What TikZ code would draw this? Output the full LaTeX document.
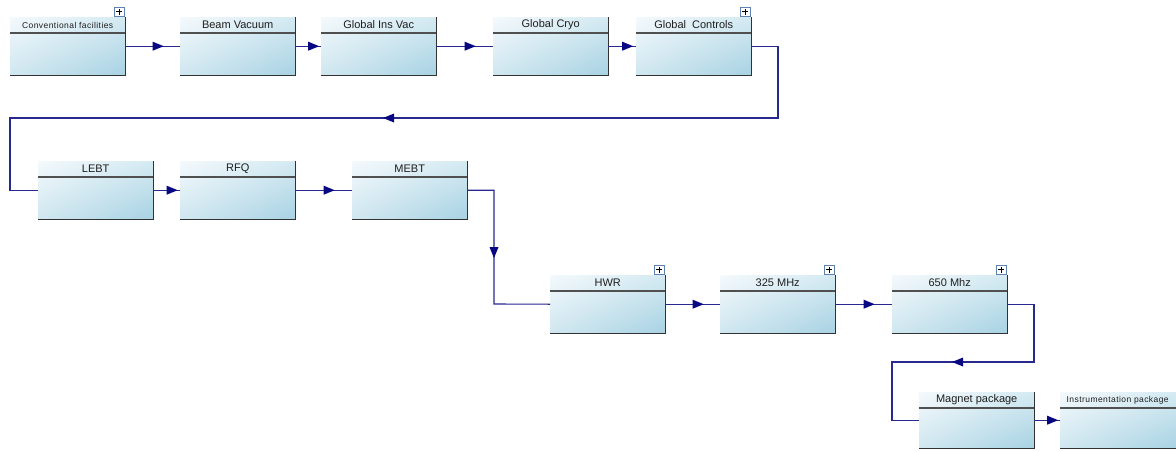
\documentclass[tikz,border=0pt]{standalone}
\usepackage{fontspec}
\setmainfont{Liberation Sans}
\newfontfamily\smallsans[LetterSpace=5]{Liberation Sans}
\usetikzlibrary{calc,decorations.markings,shadings}
\definecolor{lnc}{RGB}{40,40,145}
\definecolor{arc}{RGB}{8,8,130}
\definecolor{bord}{RGB}{50,50,50}
\definecolor{divc}{RGB}{80,80,80}
\definecolor{pbord}{RGB}{95,130,180}
\definecolor{txt}{RGB}{30,30,30}
\definecolor{cul}{RGB}{244,249,252}
\definecolor{cur}{RGB}{212,234,242}
\definecolor{cll}{RGB}{208,231,240}
\definecolor{clr}{RGB}{168,210,227}
\tikzset{
  stbox/.style={draw=none, minimum width=115pt, minimum height=58pt, inner sep=0pt,
    anchor=north west, upper left=cul, upper right=cur, lower left=cll, lower right=clr},
  divline/.style={divc, line width=1.3pt},
  edgeline/.style={bord, line width=1.5pt},
  hdr/.style={font=\fontsize{11}{13}\selectfont, text=txt, inner sep=0pt},
  smallhdr/.style={font=\smallsans\fontsize{8.5}{10}\selectfont},
  plusbox/.style={draw=pbord, fill=white, line width=0.8pt, minimum width=10pt,
    minimum height=9pt, inner sep=0pt},
  conn/.style={lnc, line width=1.1pt},
  marrow/.style={decorate, decoration={markings,
    mark=at position 0.5 with {\fill[arc] (11pt,0pt) -- (0pt,4.5pt) -- (0pt,-4.5pt) -- cycle;}}},
}
\newcommand\stb[5][]{%
  \node[stbox,#1] (#2) at (#3,#4) {};
  \draw[divline] ([yshift=-16pt]#2.north west) -- ([yshift=-16pt]#2.north east);
  \draw[edgeline] (#2.north east) -- (#2.south east) -- (#2.south west);
}
\newcommand\hd[3][]{\node[hdr,#1] (#2t) at ([yshift=-8pt]#2.north) {#3};}
\newcommand\plusb[1]{%
  \node[plusbox] (#1p) at ([xshift=-6pt,yshift=5.5pt]#1.north east) {};
  \draw[black, line width=0.8pt] ([xshift=-3pt]#1p.center) -- ([xshift=3pt]#1p.center)
    ([yshift=-3pt]#1p.center) -- ([yshift=3pt]#1p.center);
}
\begin{document}
\begin{tikzpicture}[x=1pt, y=-1pt]
\useasboundingbox (0,0) rectangle (1176,451);
\clip (0,0) rectangle (1176,451);
% boxes
\stb{cf}{10}{17}{}
\stb{bv}{180}{17}{}
\stb{giv}{321}{17}{}
\stb{gcr}{493}{17}{}
\stb{gcon}{636}{17}{}
\stb{lebt}{38}{161}{}
\stb{rfq}{180}{161}{}
\stb{mebt}{352}{161}{}
\stb{hwr}{550}{275}{}
\stb{mtf}{720}{275}{}
\stb{msf}{892}{275}{}
\stb[minimum height=56pt]{mag}{919}{392}{}
\stb[minimum height=56pt, minimum width=118pt]{inst}{1060}{392}{}
% headers
\hd[smallhdr]{cf}{Conventional facilities}
\hd{bv}{Beam Vacuum}
\hd{giv}{Global Ins Vac}
\hd{gcr}{Global Cryo}
\hd{gcon}{Global\ \ Controls}
\hd{lebt}{LEBT}
\hd{rfq}{RFQ}
\hd{mebt}{MEBT}
\hd{hwr}{HWR}
\hd{mtf}{325 MHz}
\hd{msf}{650 Mhz}
\hd{mag}{Magnet package}
\node[hdr,smallhdr] (instt) at ([yshift=-8pt,xshift=-1.5pt]inst.north) {Instrumentation package};
% plus boxes
\plusb{cf}
\plusb{gcon}
\plusb{hwr}
\plusb{mtf}
\plusb{msf}
% straight connectors
\foreach \a/\b in {cf/bv, bv/giv, giv/gcr, gcr/gcon, lebt/rfq, rfq/mebt, hwr/mtf, mtf/msf, mag/inst}{
  \draw[conn] (\a.east) -- (\b.west);
  \path[marrow] (\a.east) -- (\b.west);
}
% bent connectors
\coordinate (c2) at (778,118);
\coordinate (c3) at (10,118);
\draw[conn] (gcon.east) -| (c2) -- (c3) |- (lebt.west);
\path[marrow] (c2) -- (c3);
\coordinate (d2) at (494,304);
\draw[conn] (mebt.east) -| (d2) -- (hwr.west);
\path[marrow] (mebt.east -| d2) -- (d2);
\coordinate (e2) at (1034,362);
\coordinate (e3) at (892,362);
\draw[conn] (msf.east) -| (e2) -- (e3) |- (mag.west);
\path[marrow] (e2) -- (e3);
\end{tikzpicture}
\end{document}
